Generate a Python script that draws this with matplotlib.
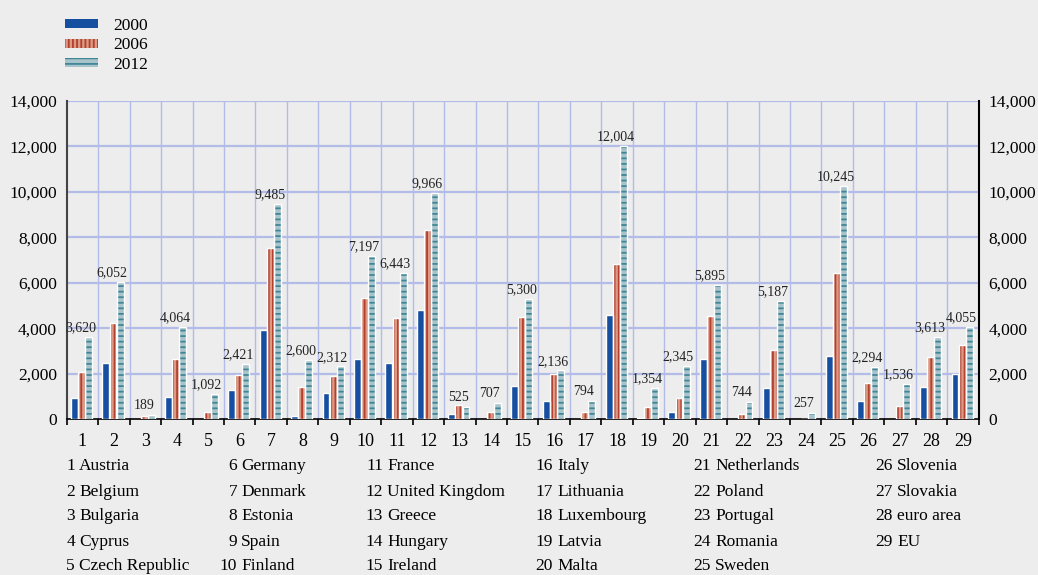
import numpy as np
import matplotlib
matplotlib.use("Agg")
import matplotlib.pyplot as plt
from matplotlib.patches import Patch
from matplotlib.ticker import FuncFormatter

plt.rcParams['font.family'] = ['Liberation Serif', 'DejaVu Serif']

# ---- data ----
countries = ["Austria", "Belgium", "Bulgaria", "Cyprus", "Czech Republic",
             "Germany", "Denmark", "Estonia", "Spain", "Finland",
             "France", "United Kingdom", "Greece", "Hungary", "Ireland",
             "Italy", "Lithuania", "Luxembourg", "Latvia", "Malta",
             "Netherlands", "Poland", "Portugal", "Romania", "Sweden",
             "Slovenia", "Slovakia", "euro area", "EU"]
v2000 = [930, 2470, 0, 960, 0, 1290, 3900, 130, 1160, 2660,
         2470, 4780, 235, 0, 1470, 795, 0, 4560, 60, 310,
         2620, 0, 1370, 0, 2770, 780, 0, 1400, 1960]
v2006 = [2090, 4240, 120, 2640, 300, 1940, 7520, 1400, 1900, 5330,
         4430, 8300, 620, 310, 4470, 2000, 310, 6810, 545, 940,
         4550, 235, 3020, 20, 6450, 1600, 575, 2740, 3270]
v2012 = [3620, 6052, 189, 4064, 1092, 2421, 9485, 2600, 2312, 7197,
         6443, 9966, 525, 707, 5300, 2136, 794, 12004, 1354, 2345,
         5895, 744, 5187, 257, 10245, 2294, 1536, 3613, 4055]
years = ["2000", "2006", "2012"]

bg = '#ecedec'
fills = ['#164ea0', '#dc9984', '#a9c3cb']
stripes = ['#164ea0', '#b3402e', '#3f8797']
hatches = [None, '||||', '---']
grid_c = '#b3bbe8'

fig = plt.figure(figsize=(10.38, 5.75), dpi=100, facecolor=bg)
ax = fig.add_axes([0.0643, 0.2713, 0.8786, 0.553])
ax.set_facecolor(bg)

x = np.arange(1, 30)
offsets = [-0.255, -0.03, 0.195]
w = 0.22
plt.rcParams['hatch.linewidth'] = 1.3
for vals, off, fc, sc, h in zip([v2000, v2006, v2012], offsets, fills, stripes, hatches):
    vals = np.array(vals)
    ax.bar(x + off, vals, w, color=fc, edgecolor=sc, linewidth=0, hatch=h, zorder=3)
    nz = vals > 0
    ax.bar((x + off)[nz], vals[nz], w, fill=False, edgecolor='white', linewidth=1.0, zorder=4)

for xi, v in zip(x, v2012):
    ax.annotate(f"{v:,}", (xi - 0.05, v), xytext=(0, 2), textcoords='offset points',
                ha='center', va='bottom', fontsize=10, color='#222222', zorder=5)

ax.set_xlim(0.5, 29.5)
ax.set_ylim(0, 14000)
ax.set_yticks(np.arange(0, 14001, 2000))
ax.yaxis.set_major_formatter(FuncFormatter(lambda v, p: f"{int(v):,}"))
ax.tick_params(axis='y', length=0, labelsize=12.5, pad=7, labelright=True, right=False)
ax.set_xticks(x)
ax.set_xticks(np.arange(0.5, 30, 1), minor=True)
ax.tick_params(axis='x', which='major', length=0, labelsize=13, pad=10)
ax.tick_params(axis='x', which='minor', length=4, width=1.2, direction='out', color='black')

# grid lines
for yv in range(2000, 14001, 2000):
    ax.axhline(yv, color=grid_c, lw=1.6, zorder=1)
for xv in np.arange(1.5, 29.5, 1):
    ax.axvline(xv, color=grid_c, lw=1.0, zorder=1)

ax.spines['top'].set_visible(False)
ax.spines['left'].set_color('#444444')
ax.spines['left'].set_linewidth(1.5)
ax.spines['right'].set_color('black')
ax.spines['right'].set_linewidth(1.5)
ax.spines['bottom'].set_linewidth(1.2)

# legend
handles = [Patch(facecolor=fc, edgecolor=sc, hatch=h, linewidth=0)
           for fc, sc, h in zip(fills, stripes, hatches)]
fig.legend(handles, years, loc='upper left', bbox_to_anchor=(65 / 1038, 1 - 18 / 575),
           frameon=False, fontsize=12.5, handlelength=1.9, handleheight=0.45,
           handletextpad=0.9, labelspacing=0.2, borderpad=0, borderaxespad=0)

# country key below the chart
name_x = [79, 241, 387, 557, 715, 897]
row_y = [466, 491.5, 516.5, 541.5, 566]
for i, name in enumerate(countries):
    col, row = divmod(i, 5)
    yy = 1 - row_y[row] / 575
    fig.text((name_x[col] - 4) / 1038, yy, str(i + 1), ha='right', va='center', fontsize=12.5)
    fig.text(name_x[col] / 1038, yy, name, ha='left', va='center', fontsize=12.5)

fig.savefig("out.png", dpi=100, facecolor=bg)
